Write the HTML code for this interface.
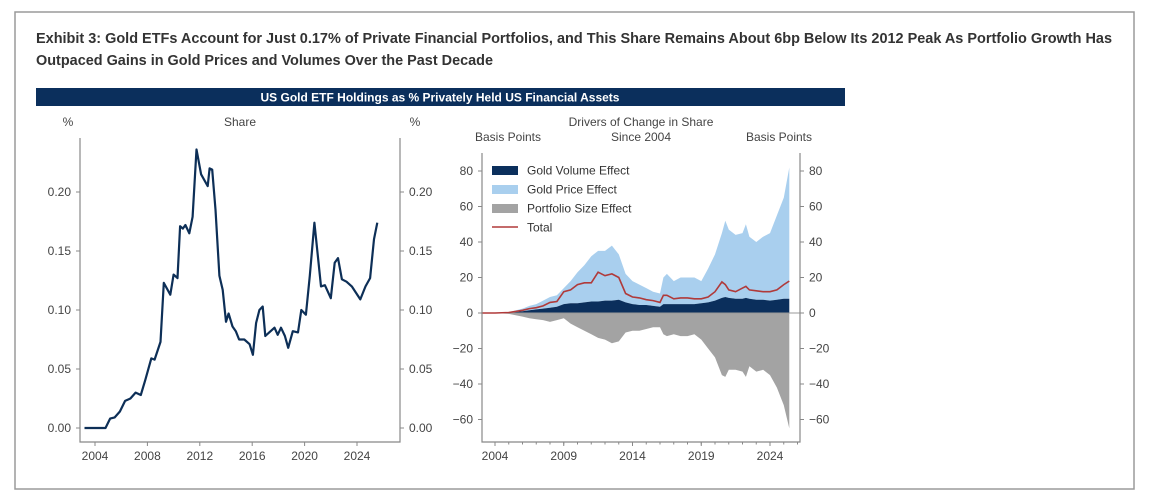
<!DOCTYPE html>
<html><head><meta charset="utf-8"><style>
html,body{margin:0;padding:0;background:#fff;}
svg{display:block;font-family:"Liberation Sans",sans-serif;}
</style></head><body>
<svg id="chart" width="1150" height="493" viewBox="0 0 1150 493">
<rect x="15" y="12" width="1119" height="477" fill="#fff" stroke="#9a9a9a" stroke-width="1.5"/>
<text x="36" y="43" font-size="14.5" font-weight="bold" fill="#333" textLength="1076" lengthAdjust="spacingAndGlyphs">Exhibit 3: Gold ETFs Account for Just 0.17% of Private Financial Portfolios, and This Share Remains About 6bp Below Its 2012 Peak As Portfolio Growth Has</text>
<text x="36" y="65" font-size="14.5" font-weight="bold" fill="#333" textLength="457" lengthAdjust="spacingAndGlyphs">Outpaced Gains in Gold Prices and Volumes Over the Past Decade</text>
<rect x="36" y="88" width="809" height="18" fill="#0b2f5c"/>
<text x="440" y="101.5" font-size="12" font-weight="bold" fill="#fff" text-anchor="middle">US Gold ETF Holdings as % Privately Held US Financial Assets</text>
<g id="left"></g>
<g id="right"></g>
</svg>
<script>
// Left chart data: share of private financial assets (%)
const shareYears = [2003.2,2004.8,2005.15,2005.5,2005.9,2006.3,2006.7,2007.1,2007.5,2007.85,2008.3,2008.55,2009.0,2009.25,2009.75,2010.0,2010.3,2010.5,2010.7,2010.9,2011.2,2011.45,2011.75,2012.1,2012.6,2012.75,2012.95,2013.2,2013.5,2013.75,2014.0,2014.2,2014.5,2014.75,2015.0,2015.4,2015.8,2016.05,2016.3,2016.55,2016.8,2017.0,2017.3,2017.7,2017.95,2018.2,2018.5,2018.75,2019.1,2019.5,2019.75,2020.1,2020.4,2020.75,2021.25,2021.55,2022.0,2022.3,2022.55,2022.85,2023.2,2023.6,2024.25,2024.65,2025.0,2025.3,2025.55];
const shareValues = [0,0,0.008,0.009,0.014,0.023,0.025,0.030,0.028,0.041,0.059,0.058,0.073,0.123,0.113,0.130,0.127,0.171,0.169,0.172,0.165,0.179,0.236,0.215,0.205,0.220,0.219,0.185,0.129,0.117,0.090,0.097,0.086,0.082,0.075,0.075,0.071,0.062,0.089,0.100,0.103,0.078,0.081,0.085,0.079,0.085,0.078,0.068,0.082,0.081,0.100,0.096,0.129,0.174,0.120,0.121,0.110,0.140,0.144,0.126,0.124,0.120,0.109,0.120,0.127,0.160,0.174];
const shareTicks = [0,0.05,0.10,0.15,0.20];
const shareTickLabels = ["0.00","0.05","0.10","0.15","0.20"];
const shareYearTicks = [2004,2008,2012,2016,2020,2024];

// Right chart data: drivers (basis points)
const drvYears = [2003,2004,2005,2006,2006.5,2007,2007.5,2008,2008.5,2009,2009.5,2010,2010.5,2011,2011.5,2012,2012.5,2013,2013.5,2014,2014.5,2015,2015.5,2016,2016.25,2016.5,2017,2017.5,2018,2018.5,2019,2019.5,2020,2020.5,2020.75,2021,2021.5,2022,2022.25,2022.5,2023,2023.5,2024,2024.5,2025,2025.4];
const volumeEffect = [0,0,0.3,1,1.5,2,2.5,3,3.5,5,5.5,5.5,6,6.5,6.5,7,7,7.5,6,5,4.5,4.5,4,3.5,5,5,5,5,5,5,5.5,6,7,8.5,9,8.5,8,8,8.5,8,7.5,7.5,7,7.5,8,8];
const priceEffect = [0,0,0.2,1.5,2.5,3,4.5,6,6.5,9,12.5,17.5,21,25.5,28.5,28,31,25.5,16,13,11.5,9.5,8,7.5,15,17,13,15,15,15,12.5,19,26,36.5,43,38.5,36,37,41.5,35,32.5,35.5,38,47.5,57,74];
const portfolioEffect = [0,0,-0.5,-2,-3,-3.5,-4,-5,-4,-3,-6,-8,-10,-12,-14,-15,-17,-16,-11,-10,-10,-9,-8,-8,-12,-13,-12,-13,-13,-12,-15,-20,-25,-35,-36,-32,-32,-33,-36,-30,-33,-32,-35,-42,-52,-65];
const totalEffect = [0,0,0.3,1.5,2.5,3,4,6,6.5,12,13,16,17,17,23,21,22,20,11,9,8.5,7.5,7,6,10,10,8,8.5,8.5,8,8,9,12,17.5,16,13,12,14,15,13,12.5,12,12,13,16,18];
const bpTicks = [-60,-40,-20,0,20,40,60,80];
const bpTickLabels = ["\u221260","\u221240","\u221220","0","20","40","60","80"];
const drvYearTicks = [2004,2009,2014,2019,2024];
const legendLabels = ["Gold Volume Effect","Gold Price Effect","Portfolio Size Effect","Total"];

const NS="http://www.w3.org/2000/svg";
function mk(parent,tag,attrs,text){const e=document.createElementNS(NS,tag);for(const k in attrs)e.setAttribute(k,attrs[k]);if(text!==undefined)e.textContent=text;parent.appendChild(e);return e;}

// ---- Left chart ----
const L=document.getElementById('left');
const lx0=80,lx1=400,ly0=138,ly1=442;
const lxs=y=>95+(y-2004)*13.1;
const lys=v=>428-v*1180;
let e;
e=mk(L,'path',{d:`M${lx0},${ly0}V${ly1}H${lx1}V${ly0}`,fill:'none',stroke:'#888','stroke-width':1.2});


shareTicks.forEach((t,i)=>{
  const y=lys(t);
  mk(L,'line',{x1:lx0-4,x2:lx0,y1:y,y2:y,stroke:'#888'});
  mk(L,'line',{x1:lx1,x2:lx1+4,y1:y,y2:y,stroke:'#888'});
  e=mk(L,'text',{x:lx0-9,y:y+4,'font-size':12,fill:'#444','text-anchor':'end'},shareTickLabels[i]);
  
  
  e=mk(L,'text',{x:lx1+9,y:y+4,'font-size':12,fill:'#444'},shareTickLabels[i]);
  
  
});
shareYearTicks.forEach(t=>{
  const x=lxs(t);
  mk(L,'line',{x1:x,x2:x,y1:ly1,y2:ly1+4,stroke:'#888'});
  e=mk(L,'text',{x:x,y:ly1+18,'font-size':12,fill:'#444','text-anchor':'middle'},String(t));
  
  
});
e=mk(L,'text',{x:68,y:126,'font-size':12,fill:'#444','text-anchor':'middle'},'%');


e=mk(L,'text',{x:415,y:126,'font-size':12,fill:'#444','text-anchor':'middle'},'%');


e=mk(L,'text',{x:240,y:126,'font-size':12,fill:'#444','text-anchor':'middle'},'Share');


e=mk(L,'path',{d:shareYears.map((y,i)=>(i?'L':'M')+lxs(y).toFixed(1)+','+lys(shareValues[i]).toFixed(1)).join(''),fill:'none',stroke:'#0d2f57','stroke-width':2.2,'stroke-linejoin':'round'});



// ---- Right chart ----
const R=document.getElementById('right');
const rx0=482,rx1=800,ry0=153,ry1=442;
const rxs=y=>495+(y-2004)*13.75;
const rys=v=>313-v*1.775;
function area(top,bot){
  let d='M'+drvYears.map((y,i)=>rxs(y).toFixed(1)+','+rys(top[i]).toFixed(1)).join('L');
  for(let i=drvYears.length-1;i>=0;i--) d+='L'+rxs(drvYears[i]).toFixed(1)+','+rys(bot[i]).toFixed(1);
  return d+'Z';
}
const zeros=drvYears.map(()=>0);
const stackTop=volumeEffect.map((v,i)=>v+priceEffect[i]);
e=mk(R,'path',{d:area(stackTop,volumeEffect),fill:'#a9cfee'});


e=mk(R,'path',{d:area(volumeEffect,zeros),fill:'#0b2f5c'});


e=mk(R,'path',{d:area(zeros,portfolioEffect),fill:'#a3a3a3'});


mk(R,'line',{x1:rx0,x2:rx1,y1:rys(0),y2:rys(0),stroke:'#999','stroke-width':1});
e=mk(R,'path',{d:drvYears.map((y,i)=>(i?'L':'M')+rxs(y).toFixed(1)+','+rys(totalEffect[i]).toFixed(1)).join(''),fill:'none',stroke:'#b03a3a','stroke-width':1.6});


e=mk(R,'path',{d:`M${rx0},${ry0}V${ry1}H${rx1}V${ry0}`,fill:'none',stroke:'#888','stroke-width':1.2});


bpTicks.forEach((t,i)=>{
  const y=rys(t);
  mk(R,'line',{x1:rx0-4,x2:rx0,y1:y,y2:y,stroke:'#888'});
  mk(R,'line',{x1:rx1,x2:rx1+4,y1:y,y2:y,stroke:'#888'});
  e=mk(R,'text',{x:rx0-9,y:y+4,'font-size':12,fill:'#444','text-anchor':'end'},bpTickLabels[i]);
  
  
  e=mk(R,'text',{x:rx1+9,y:y+4,'font-size':12,fill:'#444'},bpTickLabels[i]);
  
  
});
for(let yr=2003;yr<=2026;yr++){const x=rxs(yr);if(x>=rx0&&x<=rx1)mk(R,'line',{x1:x,x2:x,y1:ry1,y2:ry1+2.5,stroke:'#888'});}
drvYearTicks.forEach(t=>{
  const x=rxs(t);
  mk(R,'line',{x1:x,x2:x,y1:ry1,y2:ry1+4,stroke:'#888'});
  e=mk(R,'text',{x:x,y:ry1+18,'font-size':12,fill:'#444','text-anchor':'middle'},String(t));
  
  
});
e=mk(R,'text',{x:508,y:141,'font-size':12,fill:'#444','text-anchor':'middle'},'Basis Points');


e=mk(R,'text',{x:779,y:141,'font-size':12,fill:'#444','text-anchor':'middle'},'Basis Points');


e=mk(R,'text',{x:641,y:126,'font-size':12,fill:'#444','text-anchor':'middle'},'Drivers of Change in Share');


e=mk(R,'text',{x:641,y:141,'font-size':12,fill:'#444','text-anchor':'middle'},'Since 2004');


const legColors=['#0b2f5c','#a9cfee','#a3a3a3','#b03a3a'];
legendLabels.forEach((lab,i)=>{
  const y=170+i*19;
  if(i<3){mk(R,'rect',{x:492,y:y-4,width:26,height:9,fill:legColors[i]});}
  else{mk(R,'line',{x1:492,x2:518,y1:y,y2:y,stroke:legColors[i],'stroke-width':1.6});}
  e=mk(R,'text',{x:527,y:y+4.5,'font-size':12,fill:'#333'},lab);
  
  
});
</script>
</body></html>
